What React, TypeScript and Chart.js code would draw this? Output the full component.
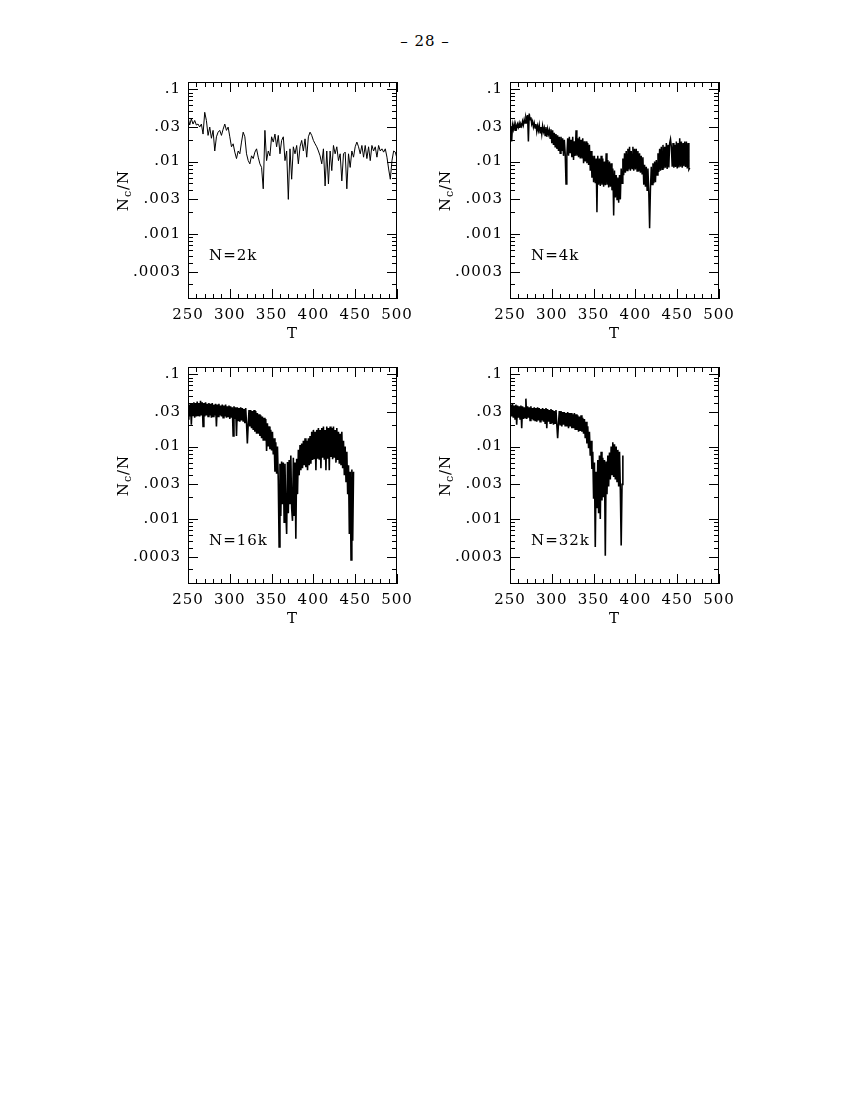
import React, { useEffect, useRef } from 'react';
import { Chart, registerables } from 'chart.js';

Chart.register(...registerables);

// ---------- data ----------
const T_START = 250;
const T_STEP_2K = 2;
const T_STEP_DENSE = 1;

const NC_2K = [
  0.041, 0.032, 0.039, 0.033, 0.037, 0.032, 0.033, 0.030, 0.033, 0.024,
  0.048, 0.037, 0.023, 0.030, 0.021, 0.027, 0.014, 0.022, 0.0255, 0.027,
  0.023, 0.028, 0.033, 0.027, 0.030, 0.022, 0.016, 0.0176, 0.0135, 0.011,
  0.014, 0.0128, 0.0186, 0.0255, 0.022, 0.0128, 0.0103, 0.0093, 0.012, 0.011,
  0.0135, 0.015, 0.0115, 0.0093, 0.0083, 0.0042, 0.027, 0.0103, 0.014, 0.012,
  0.022, 0.0186, 0.024, 0.016, 0.023, 0.0128, 0.0196, 0.022, 0.0103, 0.014,
  0.003, 0.015, 0.0057, 0.016, 0.0128, 0.0167, 0.0093, 0.016, 0.0196, 0.014,
  0.0206, 0.0115, 0.022, 0.0255, 0.023, 0.0196, 0.0176, 0.016, 0.014, 0.012,
  0.0093, 0.015, 0.0046, 0.014, 0.0049, 0.014, 0.0075, 0.0167, 0.0128, 0.016,
  0.0103, 0.0128, 0.0054, 0.0128, 0.0135, 0.0042, 0.0128, 0.0083, 0.014, 0.0115,
  0.016, 0.0186, 0.016, 0.0128, 0.0167, 0.0115, 0.0167, 0.011, 0.016, 0.0103,
  0.0167, 0.014, 0.016, 0.0115, 0.0167, 0.014, 0.015, 0.0135, 0.015, 0.0115,
  0.0079, 0.0057, 0.0103, 0.014, 0.0135, 0.011,
];

const NC_4K = [
  0.026, 0.031, 0.019, 0.032, 0.028, 0.033, 0.027, 0.032, 0.029, 0.033,
  0.030, 0.034, 0.030, 0.033, 0.031, 0.036, 0.032, 0.038, 0.034, 0.041,
  0.037, 0.044, 0.019, 0.046, 0.038, 0.041, 0.033, 0.036, 0.030, 0.034,
  0.029, 0.033, 0.026, 0.031, 0.027, 0.032, 0.025, 0.030, 0.024, 0.031,
  0.026, 0.029, 0.023, 0.030, 0.022, 0.028, 0.024, 0.027, 0.021, 0.028,
  0.018, 0.027, 0.017, 0.025, 0.016, 0.024, 0.015, 0.023, 0.014, 0.022,
  0.013, 0.022, 0.014, 0.021, 0.012, 0.020, 0.013, 0.0049, 0.012, 0.021,
  0.012, 0.022, 0.013, 0.020, 0.0115, 0.022, 0.0105, 0.019, 0.012, 0.027,
  0.012, 0.021, 0.0115, 0.022, 0.011, 0.020, 0.011, 0.021, 0.0095, 0.019,
  0.010, 0.019, 0.0095, 0.018, 0.009, 0.017, 0.0075, 0.014, 0.006, 0.012,
  0.0052, 0.012, 0.005, 0.011, 0.002, 0.012, 0.0048, 0.011, 0.0046, 0.012,
  0.0048, 0.011, 0.0045, 0.010, 0.0047, 0.013, 0.0048, 0.0105, 0.0044, 0.010,
  0.0045, 0.0095, 0.004, 0.008, 0.0018, 0.0075, 0.0032, 0.0065, 0.003, 0.006,
  0.0027, 0.0065, 0.003, 0.008, 0.005, 0.011, 0.0065, 0.013, 0.007, 0.014,
  0.0075, 0.015, 0.0078, 0.016, 0.0075, 0.014, 0.0080, 0.016, 0.0075, 0.015,
  0.0078, 0.015, 0.0074, 0.014, 0.0073, 0.013, 0.0070, 0.012, 0.0068, 0.0115,
  0.0048, 0.009, 0.0045, 0.0085, 0.0040, 0.008, 0.0038, 0.0012, 0.0042, 0.0085,
  0.0048, 0.0095, 0.005, 0.010, 0.0052, 0.0105, 0.0065, 0.013, 0.0072, 0.015,
  0.0075, 0.016, 0.0078, 0.017, 0.0080, 0.016, 0.0082, 0.018, 0.0079, 0.017,
  0.0083, 0.018, 0.0205, 0.016, 0.0085, 0.018, 0.0082, 0.017, 0.0084, 0.019,
  0.0080, 0.018, 0.0083, 0.021, 0.0085, 0.019, 0.0082, 0.018, 0.0086, 0.019,
  0.0084, 0.019, 0.0080, 0.018, 0.0078, 0.0082,
];

const NC_16K = [
  0.024, 0.038, 0.026, 0.040, 0.020, 0.039, 0.027, 0.041, 0.025, 0.040,
  0.026, 0.042, 0.027, 0.040, 0.026, 0.043, 0.027, 0.041, 0.019, 0.040,
  0.026, 0.041, 0.027, 0.039, 0.026, 0.040, 0.027, 0.039, 0.025, 0.040,
  0.026, 0.038, 0.027, 0.039, 0.019, 0.038, 0.026, 0.039, 0.027, 0.037,
  0.026, 0.038, 0.025, 0.037, 0.026, 0.038, 0.025, 0.036, 0.026, 0.037,
  0.024, 0.036, 0.025, 0.035, 0.014, 0.036, 0.024, 0.035, 0.014, 0.035,
  0.023, 0.034, 0.022, 0.035, 0.023, 0.034, 0.022, 0.033, 0.021, 0.034,
  0.021, 0.011, 0.020, 0.032, 0.019, 0.032, 0.018, 0.031, 0.017, 0.032,
  0.016, 0.031, 0.015, 0.029, 0.015, 0.028, 0.014, 0.027, 0.013, 0.026,
  0.012, 0.025, 0.012, 0.024, 0.0087, 0.021, 0.010, 0.019, 0.0092, 0.017,
  0.0088, 0.016, 0.0078, 0.013, 0.0045, 0.0115, 0.0042, 0.010, 0.0034, 0.00041,
  0.0058, 0.0011, 0.0062, 0.0016, 0.0060, 0.0009, 0.0058, 0.0013, 0.00062, 0.0061,
  0.0012, 0.0065, 0.0016, 0.0075, 0.0014, 0.00094, 0.0070, 0.0011, 0.0060, 0.00053,
  0.0068, 0.0022, 0.0090, 0.0040, 0.0105, 0.0047, 0.011, 0.0050, 0.012, 0.0055,
  0.013, 0.0052, 0.012, 0.0047, 0.013, 0.0055, 0.014, 0.0058, 0.016, 0.0065,
  0.017, 0.0067, 0.016, 0.0047, 0.017, 0.0068, 0.018, 0.0066, 0.017, 0.0050,
  0.018, 0.0070, 0.019, 0.0066, 0.017, 0.0047, 0.019, 0.0068, 0.018, 0.0047,
  0.019, 0.0072, 0.018, 0.0067, 0.019, 0.0070, 0.017, 0.0060, 0.018, 0.0065,
  0.016, 0.0058, 0.015, 0.0055, 0.016, 0.0050, 0.012, 0.0040, 0.010, 0.0033,
  0.0085, 0.0022, 0.0055, 0.00062, 0.0045, 0.00027, 0.0048, 0.0005, 0.0045,
];

const NC_32K = [
  0.027, 0.038, 0.026, 0.039, 0.025, 0.037, 0.024, 0.038, 0.020, 0.037,
  0.025, 0.036, 0.024, 0.037, 0.018, 0.036, 0.024, 0.035, 0.025, 0.046,
  0.024, 0.036, 0.025, 0.035, 0.023, 0.036, 0.024, 0.034, 0.023, 0.035,
  0.023, 0.034, 0.022, 0.035, 0.023, 0.034, 0.022, 0.033, 0.023, 0.034,
  0.022, 0.033, 0.021, 0.034, 0.018, 0.033, 0.022, 0.032, 0.021, 0.033,
  0.021, 0.032, 0.020, 0.031, 0.021, 0.032, 0.020, 0.013, 0.021, 0.031,
  0.020, 0.031, 0.019, 0.030, 0.020, 0.030, 0.019, 0.029, 0.019, 0.030,
  0.018, 0.029, 0.019, 0.029, 0.018, 0.028, 0.018, 0.029, 0.017, 0.028,
  0.017, 0.027, 0.016, 0.026, 0.0165, 0.027, 0.016, 0.025, 0.015, 0.024,
  0.013, 0.022, 0.011, 0.019, 0.0095, 0.016, 0.0075, 0.012, 0.0049, 0.0085,
  0.0019, 0.0060, 0.00041, 0.0045, 0.0014, 0.0065, 0.0012, 0.0075, 0.0010, 0.0085,
  0.0018, 0.0070, 0.0020, 0.0065, 0.00031, 0.0062, 0.0022, 0.0075, 0.0028, 0.0083,
  0.0035, 0.0100, 0.0040, 0.0115, 0.0038, 0.0108, 0.0035, 0.0100, 0.0033, 0.0090,
  0.0028, 0.0085, 0.0025, 0.00043, 0.0030, 0.0075,
];

const X_MIN = 250;
const X_MAX = 500;
const X_TICKS = [250, 260, 270, 280, 290, 300, 310, 320, 330, 340, 350, 360, 370, 380, 390, 400, 410, 420, 430, 440, 450, 460, 470, 480, 490, 500];
const X_TICK_LABELS = ['250', '', '', '', '', '300', '', '', '', '', '350', '', '', '', '', '400', '', '', '', '', '450', '', '', '', '', '500'];

const Y_MIN = 0.000125893; // 10^-3.9
const Y_MAX = 0.125893; // 10^-0.9
const Y_TICKS = [
  0.0002, 0.0003, 0.0004, 0.0005, 0.0006, 0.0007, 0.0008, 0.0009,
  0.001, 0.002, 0.003, 0.004, 0.005, 0.006, 0.007, 0.008, 0.009,
  0.01, 0.02, 0.03, 0.04, 0.05, 0.06, 0.07, 0.08, 0.09,
  0.1,
];
const Y_TICK_LABELS = [
  '', '.0003', '', '', '', '', '', '',
  '.001', '', '.003', '', '', '', '', '', '',
  '.01', '', '.03', '', '', '', '', '', '',
  '.1',
];

const PANEL_LABELS = ['N=2k', 'N=4k', 'N=16k', 'N=32k'];
const X_TITLE = 'T';
const PAGE_NUMBER = '\u2013 28 \u2013';

// ---------- layout / style ----------
const FONT = '"DejaVu Serif", "Liberation Serif", serif';
const FONT_SIZE = 15;
const LETTER_SPACING = '1px';
const CANVAS_W = 330;
const CANVAS_H = 278;
const Y_AXIS_W = 88;
const X_AXIS_H = 49;
const PAD_TOP = 12;
const PAD_RIGHT = 33;
const MAJOR_TICK = 10;
const MINOR_TICK = 5;

const PANELS = [
  { label: PANEL_LABELS[0], values: NC_2K, step: T_STEP_2K, width: 1, left: 100, top: 70 },
  { label: PANEL_LABELS[1], values: NC_4K, step: T_STEP_DENSE, width: 1.5, left: 422, top: 70 },
  { label: PANEL_LABELS[2], values: NC_16K, step: T_STEP_DENSE, width: 1.6, left: 100, top: 355 },
  { label: PANEL_LABELS[3], values: NC_32K, step: T_STEP_DENSE, width: 1.6, left: 422, top: 355 },
];

const framePlugin = {
  id: 'frameTicks',
  beforeDraw(chart: any) {
    (chart.ctx as any).letterSpacing = LETTER_SPACING;
  },
  afterDraw(chart: any, _args: any, opts: any) {
    const { ctx, chartArea: a } = chart;
    const xs = chart.scales.x;
    const ys = chart.scales.y;
    ctx.save();
    ctx.strokeStyle = '#000';
    ctx.fillStyle = '#000';
    ctx.lineWidth = 1;
    ctx.strokeRect(a.left + 0.5, a.top + 0.5, a.right - a.left - 1, a.bottom - a.top - 1);
    ctx.beginPath();
    xs.ticks.forEach((t: any) => {
      const px = Math.round(xs.getPixelForValue(t.value)) + 0.5;
      const len = t.label ? MAJOR_TICK : MINOR_TICK;
      ctx.moveTo(px, a.bottom);
      ctx.lineTo(px, a.bottom - len);
      ctx.moveTo(px, a.top);
      ctx.lineTo(px, a.top + len);
    });
    ys.ticks.forEach((t: any) => {
      const py = Math.round(ys.getPixelForValue(t.value)) + 0.5;
      const len = t.label ? MAJOR_TICK : MINOR_TICK;
      ctx.moveTo(a.left, py);
      ctx.lineTo(a.left + len, py);
      ctx.moveTo(a.right, py);
      ctx.lineTo(a.right - len, py);
    });
    ctx.stroke();

    const big = `${FONT_SIZE}px ${FONT}`;
    const small = `${FONT_SIZE - 4}px ${FONT}`;
    ctx.textBaseline = 'alphabetic';
    ctx.font = big;
    // x title
    ctx.textAlign = 'center';
    ctx.fillText(X_TITLE, (a.left + a.right) / 2, a.bottom + 39);
    // panel label
    ctx.textAlign = 'left';
    ctx.fillText(opts.label, a.left + 21, a.top + 178);
    // y title N_c/N
    ctx.save();
    ctx.translate(a.left - 60, (a.top + a.bottom) / 2);
    ctx.rotate(-Math.PI / 2);
    ctx.font = big;
    const wN = ctx.measureText('N').width;
    const wS = ctx.measureText('/N').width;
    ctx.font = small;
    const wc = ctx.measureText('c').width;
    let cx = -(wN + wc + wS) / 2;
    ctx.font = big;
    ctx.fillText('N', cx, 0);
    cx += wN;
    ctx.font = small;
    ctx.fillText('c', cx, 3);
    cx += wc;
    ctx.font = big;
    ctx.fillText('/N', cx, 0);
    ctx.restore();
    ctx.restore();
  },
};

function Panel({ label, values, step, width, left, top }: { label: string; values: number[]; step: number; width: number; left: number; top: number }) {
  const ref = useRef<HTMLCanvasElement>(null);
  useEffect(() => {
    const canvas = ref.current;
    if (!canvas) return;
    const data = values.map((v, i) => ({ x: T_START + i * step, y: v }));
    const tickFont = { family: FONT, size: FONT_SIZE };
    const chart = new Chart(canvas, {
      type: 'line',
      data: {
        datasets: [
          {
            data,
            borderColor: '#000',
            borderWidth: width,
            pointRadius: 0,
            tension: 0,
            fill: false,
          },
        ],
      },
      options: {
        animation: false,
        responsive: false,
        events: [],
        layout: { padding: { top: PAD_TOP, right: PAD_RIGHT, left: 0, bottom: 0 } },
        plugins: {
          legend: { display: false },
          tooltip: { enabled: false },
          frameTicks: { label },
        } as any,
        scales: {
          x: {
            type: 'linear',
            min: X_MIN,
            max: X_MAX,
            bounds: 'data',
            afterBuildTicks: (s: any) => {
              s.ticks = X_TICKS.map((v) => ({ value: v }));
            },
            afterFit: (s: any) => {
              s.height = X_AXIS_H;
              s.paddingLeft = 0;
              s.paddingRight = 0;
            },
            grid: { display: false, drawTicks: false },
            border: { display: false },
            ticks: {
              autoSkip: false,
              maxRotation: 0,
              minRotation: 0,
              padding: 7,
              color: '#000',
              font: tickFont,
              callback: (_v: any, i: number) => X_TICK_LABELS[i],
            },
          },
          y: {
            type: 'logarithmic',
            min: Y_MIN,
            max: Y_MAX,
            bounds: 'data',
            afterBuildTicks: (s: any) => {
              s.ticks = Y_TICKS.map((v) => ({ value: v }));
            },
            afterFit: (s: any) => {
              s.width = Y_AXIS_W;
              s.paddingTop = 0;
              s.paddingBottom = 0;
            },
            grid: { display: false, drawTicks: false },
            border: { display: false },
            ticks: {
              autoSkip: false,
              padding: 7,
              color: '#000',
              font: tickFont,
              callback: (_v: any, i: number) => Y_TICK_LABELS[i],
            },
          },
        },
      } as any,
      plugins: [framePlugin as any],
    });
    return () => chart.destroy();
  }, [label, values, step, width]);
  return (
    <canvas
      ref={ref}
      width={CANVAS_W}
      height={CANVAS_H}
      style={{ position: 'absolute', left, top, width: CANVAS_W, height: CANVAS_H }}
    />
  );
}

export default function App() {
  return (
    <div style={{ position: 'absolute', left: 0, top: 0, width: 850, height: 1100, background: '#fff' }}>
      <div
        style={{
          position: 'absolute',
          left: 0,
          width: 850,
          top: 32,
          textAlign: 'center',
          fontFamily: FONT,
          fontSize: FONT_SIZE,
          letterSpacing: LETTER_SPACING,
          color: '#000',
          lineHeight: '18px',
        }}
      >
        {PAGE_NUMBER}
      </div>
      {PANELS.map((p) => (
        <Panel key={p.label} {...p} />
      ))}
    </div>
  );
}
